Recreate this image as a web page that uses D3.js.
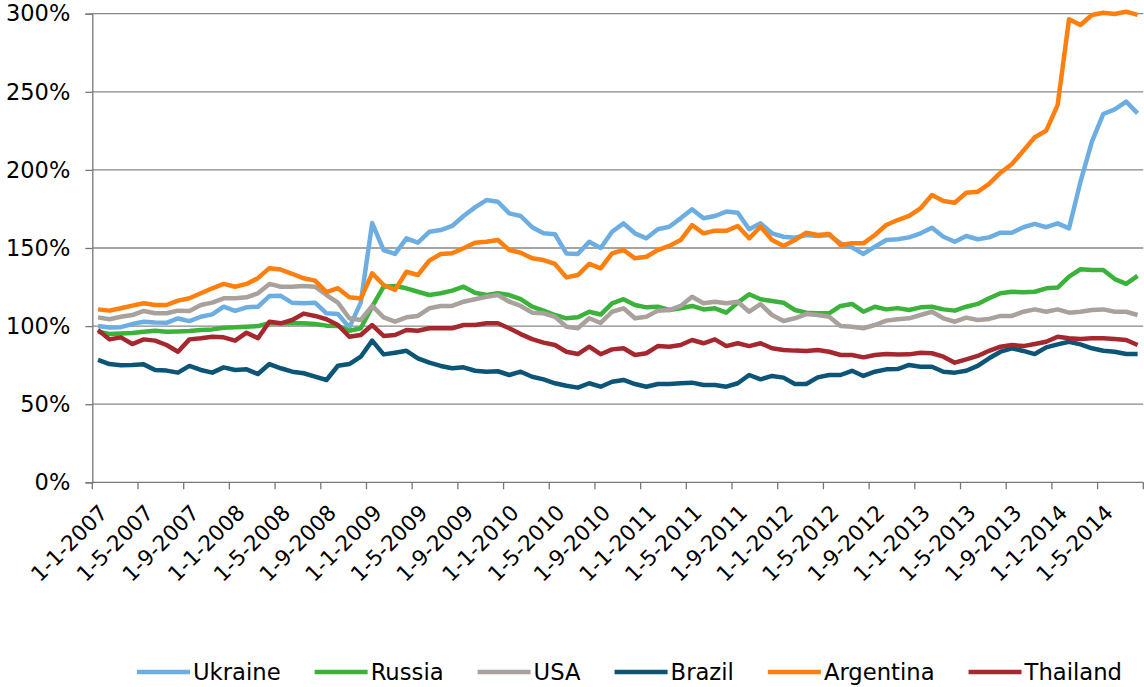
<!DOCTYPE html>
<html>
<head>
<meta charset="utf-8">
<script src="https://cdn.jsdelivr.net/npm/d3@7"></script>
<style>
	body { margin: 0; background: #fff; }
	svg { display: block; }
	text { font-family: "DejaVu Sans", Verdana, sans-serif; fill: #000; }
</style>
</head>
<body>
<div class="wrapper"></div>
<script>

// monthly index values (%), Jan 2007 .. Aug 2014
var ukraine = [100, 99.1, 99.3, 101.3, 102.8, 102.3, 102.1, 104.9, 103.2, 106,
	107.5, 112.4, 109.8, 112, 112.4, 119.2, 119.4, 114.9, 114.6, 115,
	108.2, 107.7, 99.2, 115, 166, 148.7, 146.2, 156.2, 153.4, 160.4,
	161.5, 164.1, 170.5, 176, 180.7, 179.6, 172.2, 170.5, 163.3, 159.4,
	158.8, 146.5, 146.2, 154, 150, 160.4, 165.8, 159.4, 156.2, 162,
	163.6, 169, 174.8, 169, 170.5, 173.3, 172.6, 162, 165.8, 159.4,
	157.2, 156.6, 158.3, 157.7, 158.3, 153, 150.4, 146.2, 150.8, 155.1,
	155.6, 156.8, 159.4, 163, 157.2, 154, 157.7, 155.6, 156.8, 159.8,
	159.8, 163.3, 165.4, 163.3, 165.8, 162.6, 192.4, 218.1, 235.8, 238.8,
	243.7, 236.2];

var russia = [96.4, 94.9, 95.3, 95.6, 96.4, 97, 96.4, 96.6, 96.8, 97.5,
	97.9, 99, 99.2, 99.6, 100, 101.8, 101.8, 101.8, 101.8, 101.3,
	100.3, 100, 97, 98.6, 112.4, 125.2, 125.7, 124.2, 122, 119.9,
	121, 122.7, 125.2, 121.4, 119.9, 121, 119.9, 117.2, 112.4, 109.9,
	107.1, 105, 105.6, 109.2, 107.4, 114.6, 117.2, 113.5, 112, 112.4,
	110.3, 111.4, 112.9, 110.7, 111.4, 108.6, 115, 120.4, 117.2, 116.1,
	115, 110.3, 108.6, 108.2, 108.2, 112.9, 114.2, 109.2, 112.4, 110.7,
	111.5, 110.3, 112, 112.4, 110.7, 109.9, 112.4, 114.2, 117.8, 121,
	122, 121.6, 122, 124.2, 124.7, 131.7, 136.4, 135.9, 135.9, 130.1,
	127, 132.1];

var usa = [105.6, 104.4, 106, 107.1, 109.7, 108.2, 108.2, 109.9, 109.7, 113.5,
	115, 117.8, 117.8, 118.4, 121, 127, 125.2, 125.2, 125.7, 125.2,
	119.9, 115, 105, 103.9, 112.9, 105.6, 102.8, 105.6, 106.5, 111.4,
	112.9, 112.9, 115.6, 117.2, 118.8, 119.9, 115.6, 112.9, 108.6, 108.2,
	106, 99.6, 98.6, 105, 102, 109.2, 111.4, 105, 106, 109.9,
	110.3, 112.9, 118.8, 114.6, 115.6, 114.6, 115.6, 109.2, 114, 107.1,
	103.3, 105, 107.7, 107.1, 106, 100, 99.6, 98.6, 100.7, 103.5,
	104.4, 105, 107.1, 109.2, 105, 102.8, 105.4, 103.9, 104.6, 106.5,
	106.5, 109.2, 110.7, 109.2, 110.7, 108.6, 109.2, 110.3, 110.7, 109.2,
	109.2, 107.1];

var brazil = [78.4, 75.7, 74.9, 75.1, 75.5, 71.9, 71.5, 70.2, 74.5, 71.9,
	70.2, 73.6, 71.9, 72.3, 69.3, 75.7, 73, 70.8, 69.8, 67.6,
	65.5, 74.6, 75.7, 80.4, 90.7, 81.9, 83, 84.2, 79.4, 76.6,
	74.5, 73, 73.6, 71.4, 70.8, 71.1, 68.7, 70.8, 67.6, 65.9,
	63.4, 61.8, 60.6, 63.4, 61.2, 64.4, 65.5, 62.9, 61.2, 62.9,
	62.9, 63.4, 63.8, 62.3, 62.3, 61.2, 63.4, 68.7, 65.9, 68.1,
	67, 62.9, 62.9, 67.2, 68.7, 68.7, 71.4, 68.1, 70.8, 72.3,
	72.5, 75.1, 74, 74, 70.8, 70.2, 71.4, 74.5, 79.4, 83.6,
	85.8, 84.1, 82.1, 86.4, 88.3, 90, 88.3, 85.8, 84.2, 83.6,
	82.1, 82.1];

var argentina = [110.7, 109.9, 111.4, 113.1, 114.6, 113.5, 113.5, 116.3, 117.8, 121,
	124.2, 127, 125.2, 127, 130.7, 137.1, 136.2, 133.5, 130.6, 129.1,
	121.7, 124.3, 118.4, 117.6, 133.8, 126.3, 123.1, 134.8, 132.7, 141.9,
	146.2, 146.6, 149.8, 153.4, 154, 155.1, 148.7, 147, 143.4, 142.3,
	139.8, 131.2, 132.7, 139.8, 137, 146.6, 148.7, 143.4, 144.4, 148.7,
	151.3, 155.1, 164.7, 159.4, 161.1, 161, 164.1, 156.2, 163.6, 155.1,
	151.3, 155.1, 159.8, 158.3, 159, 151.9, 153, 153, 158.3, 164.7,
	167.9, 170.5, 175.4, 183.9, 180.1, 179, 185.4, 186, 191, 198.2,
	203.8, 212.3, 220.9, 225.1, 241.5, 296.4, 292.8, 299.2, 300.6, 299.8,
	301.3, 299.2];

var thailand = [97.5, 91.5, 92.8, 88.5, 91.5, 90.7, 87.9, 83.6, 91.5, 92.2,
	93.2, 92.8, 90.7, 95.8, 92.2, 102.8, 101.8, 103.9, 108, 106.5,
	104.4, 100.7, 93.2, 94.3, 100.7, 93.7, 94.3, 97.5, 97, 98.6,
	98.6, 98.6, 100.7, 100.7, 101.8, 101.8, 98.6, 94.9, 91.7, 89.4,
	87.9, 83.6, 82.1, 86.8, 82, 85.1, 85.8, 81.5, 82.6, 87.2,
	86.8, 87.9, 91.1, 89, 91.5, 87.2, 89, 87.2, 89, 85.8,
	84.7, 84.3, 84.1, 84.7, 83.6, 81.5, 81.5, 80, 81.5, 82.1,
	81.8, 81.9, 83, 82.6, 80.4, 76.6, 78.7, 80.9, 84.2, 86.8,
	87.9, 87.2, 88.5, 90, 93.2, 92.2, 91.7, 92.2, 92.2, 91.7,
	91.1, 87.9];

var seriesNames = ["Ukraine", "Russia", "USA", "Brazil", "Argentina", "Thailand"];
var seriesValues = [ukraine, russia, usa, brazil, argentina, thailand];
var seriesColors = ["#6daee2", "#3bb33b", "#a9a19b", "#0c5577", "#ff7f0e", "#a6282f"];

var tickLabels = ["1-1-2007", "1-5-2007", "1-9-2007", "1-1-2008", "1-5-2008", "1-9-2008",
	"1-1-2009", "1-5-2009", "1-9-2009", "1-1-2010", "1-5-2010", "1-9-2010",
	"1-1-2011", "1-5-2011", "1-9-2011", "1-1-2012", "1-5-2012", "1-9-2012",
	"1-1-2013", "1-5-2013", "1-9-2013", "1-1-2014", "1-5-2014"];
var yTicks = [0, 50, 100, 150, 200, 250, 300];

var months = d3.timeMonth.range(new Date(2007, 0, 1), new Date(2014, 8, 1));

var W = 1144, H = 687,
	PLOT_LEFT = 92.3,
	PLOT_RIGHT = 1143.3,
	PLOT_TOP = 13.7,
	PLOT_BOTTOM = 482.3;

var svg = d3.select(".wrapper")
	.append("svg")
		.attr("width", W)
		.attr("height", H);

var x = d3.scaleBand()
	.domain(d3.range(months.length))
	.range([PLOT_LEFT, PLOT_RIGHT])
	.padding(0);

var y = d3.scaleLinear()
	.domain([0, 300])
	.range([PLOT_BOTTOM, PLOT_TOP]);

var cx = function(i) { return x(i) + x.bandwidth() / 2; };

// horizontal gridlines
svg.append("g")
	.selectAll("line")
	.data(yTicks.slice(1))
	.enter()
	.append("line")
		.attr("x1", PLOT_LEFT)
		.attr("x2", PLOT_RIGHT)
		.attr("y1", function(d) { return y(d); })
		.attr("y2", function(d) { return y(d); })
		.attr("stroke", "#878787")
		.attr("stroke-width", 1.3);

// y axis
var yAxis = d3.axisLeft(y)
	.tickValues(yTicks)
	.tickFormat(function(d) { return d + "%"; })
	.tickSize(7)
	.tickPadding(15);

svg.append("g")
	.attr("transform", "translate(" + PLOT_LEFT + ",0)")
	.call(yAxis)
	.call(function(g) {
		g.select(".domain").attr("stroke", "#777").attr("stroke-width", 1.3);
		g.selectAll(".tick line").attr("stroke", "#777").attr("stroke-width", 1.3);
		g.selectAll(".tick text")
			.attr("font-size", 22.5)
			.attr("font-family", "DejaVu Sans, Verdana, sans-serif")
			.attr("fill", "#000");
	});

// x axis: ticks every 4 months at category boundaries
var xTickIdx = d3.range(0, months.length + 1, 4);
var xAxisG = svg.append("g");

xAxisG.append("line")
	.attr("x1", PLOT_LEFT)
	.attr("x2", PLOT_RIGHT)
	.attr("y1", PLOT_BOTTOM)
	.attr("y2", PLOT_BOTTOM)
	.attr("stroke", "#777")
	.attr("stroke-width", 1.3);

xAxisG.selectAll(".xtick")
	.data(xTickIdx)
	.enter()
	.append("line")
		.attr("class", "xtick")
		.attr("x1", function(d) { return d < months.length ? x(d) : PLOT_RIGHT; })
		.attr("x2", function(d) { return d < months.length ? x(d) : PLOT_RIGHT; })
		.attr("y1", PLOT_BOTTOM)
		.attr("y2", PLOT_BOTTOM + 7)
		.attr("stroke", "#777")
		.attr("stroke-width", 1.3);

xAxisG.selectAll(".xlabel")
	.data(tickLabels)
	.enter()
	.append("text")
		.attr("class", "xlabel")
		.attr("text-anchor", "end")
		.attr("font-size", 21.5)
		.attr("transform", function(d, i) {
			return "translate(" + (cx(i * 4) + 11) + "," + 514 + ") rotate(-45)";
		})
		.text(function(d) { return d; });

// lines
var line = d3.line()
	.x(function(d, i) { return cx(i); })
	.y(function(d) { return y(d); });

svg.append("g")
	.selectAll("path")
	.data(seriesValues)
	.enter()
	.append("path")
		.attr("d", function(d) { return line(d); })
		.attr("fill", "none")
		.attr("stroke", function(d, i) { return seriesColors[i]; })
		.attr("stroke-width", 4.5)
		.attr("stroke-linejoin", "round");

// legend
var legend = svg.append("g").attr("class", "legend");
var LEG_Y = 672,
	lx = 137;

seriesNames.forEach(function(name, i) {
	legend.append("line")
		.attr("x1", lx)
		.attr("x2", lx + 53)
		.attr("y1", LEG_Y)
		.attr("y2", LEG_Y)
		.attr("stroke", seriesColors[i])
		.attr("stroke-width", 4.5);
	var t = legend.append("text")
		.attr("x", lx + 56)
		.attr("y", LEG_Y + 8)
		.attr("font-size", 22.7)
		.text(name);
	lx += 56 + t.node().getComputedTextLength() + 34;
});

</script>
</body>
</html>
